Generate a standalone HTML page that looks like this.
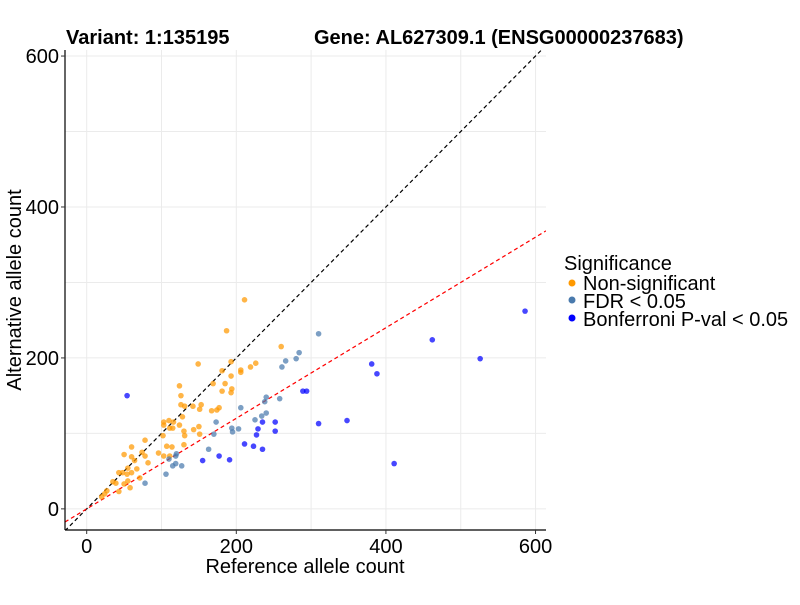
<!DOCTYPE html>
<html><head><meta charset="utf-8"><style>
body{margin:0;background:#fff;}
svg text{font-family:"Liberation Sans",Arial,sans-serif;}
</style></head><body>
<svg id="chart" width="800" height="600" xmlns="http://www.w3.org/2000/svg">
<rect width="800" height="600" fill="#fff"/>
<g id="grid"></g>
<g id="refs"></g>
<g id="pts"></g>
<g id="axes"></g>
<text x="66" y="44" font-size="20" font-weight="bold">Variant: 1:135195</text>
<text x="314" y="44" font-size="20" font-weight="bold">Gene: AL627309.1 (ENSG00000237683)</text>
<text x="305" y="573" font-size="20" text-anchor="middle">Reference allele count</text>
<text transform="translate(21,290) rotate(-90)" font-size="20" text-anchor="middle">Alternative allele count</text>
<g>
<text x="564" y="270" font-size="20">Significance</text>
<circle cx="572" cy="283" r="3.5" fill="#ff9900"/>
<text x="583" y="290" font-size="20">Non-significant</text>
<circle cx="572" cy="300" r="3.5" fill="#4a7aad"/>
<text x="583" y="308" font-size="20">FDR &lt; 0.05</text>
<circle cx="572" cy="318" r="3.5" fill="#0000ff"/>
<text x="583" y="326" font-size="20">Bonferroni P-val &lt; 0.05</text>
</g>
</svg>
<script>
const xTicks=[0,200,400,600];
const yTicks=[0,200,400,600];
const nsX=[211,187,260,149,193,181,193,206,206,219,226,185,181,194,193,169,124,126,126,131,142,153,151,177,174,167,103,110,116,103,111,115,124,128,130,131,143,150,151,102,107,114,130,96,103,111,78,78,82,74,50,60,60,64,67,60,55,54,48,43,35,39,50,55,58,43,27,24,20,71];
const nsY=[277,236,215,192,195,183,176,184,181,188,193,166,156,159,154,166,163,150,138,136,136,138,132,134,131,130,115,117,115,111,107,107,111,122,103,97,105,109,99,97,83,82,85,74,70,70,91,70,61,75,72,82,69,64,53,48,54,46,48,48,36,34,33,37,28,23,24,20,16,41];
const fdrX=[310,284,280,266,261,240,238,258,240,234,225,206,173,170,194,195,203,163,120,119,119,115,127,106,110,78];
const fdrY=[232,207,199,196,188,148,142,146,127,123,118,134,115,99,107,102,106,79,73,70,60,57,57,46,66,34];
const bonX=[54,289,294,310,348,252,252,235,229,227,211,223,235,177,191,155,381,388,462,526,586,411];
const bonY=[150,156,156,113,117,115,103,115,106,98,86,83,79,70,65,64,192,179,224,199,262,60];
const X0=65,X1=546,Y0=50,Y1=530;
const xmin=-29,xmax=614,ymin=-28,ymax=608;
const sx=v=>X0+(v-xmin)/(xmax-xmin)*(X1-X0);
const sy=v=>Y1-(v-ymin)/(ymax-ymin)*(Y1-Y0);
const NS="http://www.w3.org/2000/svg";
function mk(tag,attrs,parent){const e=document.createElementNS(NS,tag);for(const k in attrs)e.setAttribute(k,attrs[k]);parent.appendChild(e);return e;}
const grid=document.getElementById('grid'),refs=document.getElementById('refs'),pts=document.getElementById('pts'),axes=document.getElementById('axes');
for(let v=0;v<=600;v+=100){
 const gx=mk('line',{x1:sx(v),x2:sx(v),y1:Y0,y2:Y1,stroke:'#ebebeb','stroke-width':1},grid);
 
 
 const gy=mk('line',{x1:X0,x2:X1,y1:sy(v),y2:sy(v),stroke:'#ebebeb','stroke-width':1},grid);
 
 
}
const idl=mk('line',{x1:sx(xmin),y1:sy(xmin),x2:sx(xmax),y2:sy(xmax),stroke:'#000','stroke-width':1.2,'stroke-dasharray':'4,3'},refs);


const slope=0.6;
const rl=mk('line',{x1:sx(xmin),y1:sy(xmin*slope),x2:sx(xmax),y2:sy(xmax*slope),stroke:'#ff0000','stroke-width':1.2,'stroke-dasharray':'4,3'},refs);


mk('clipPath',{id:'cp'},document.getElementById('chart'));
mk('rect',{x:X0,y:Y0,width:X1-X0,height:Y1-Y0},document.getElementById('cp'));
refs.setAttribute('clip-path','url(#cp)');
function series(xs,ys,color,name){
 for(let i=0;i<xs.length;i++){
  const c=mk('circle',{cx:sx(xs[i]),cy:sy(ys[i]),r:2.8,fill:color,'fill-opacity':0.72},pts);
  
  
 }
}
series(nsX,nsY,'#ff9900','point-non-significant');
series(fdrX,fdrY,'#4a7aad','point-fdr');
series(bonX,bonY,'#0000ff','point-bonferroni');
const xa=mk('line',{x1:X0,x2:X1,y1:Y1,y2:Y1,stroke:'#000','stroke-width':1.2},axes);


const ya=mk('line',{x1:X0,x2:X0,y1:Y0,y2:Y1,stroke:'#000','stroke-width':1.2},axes);


xTicks.forEach(v=>{
 const t=mk('line',{x1:sx(v),x2:sx(v),y1:Y1,y2:Y1+4,stroke:'#333'},axes);
 
 
 const l=mk('text',{x:sx(v),y:Y1+23,'font-size':20,'text-anchor':'middle',fill:'#000'},axes);
 l.textContent=v;
 
 
});
yTicks.forEach(v=>{
 const t=mk('line',{x1:X0-4,x2:X0,y1:sy(v),y2:sy(v),stroke:'#333'},axes);
 
 
 const l=mk('text',{x:X0-6,y:sy(v)+7,'font-size':20,'text-anchor':'end',fill:'#000'},axes);
 l.textContent=v;
 
 
});
</script>
</body></html>
